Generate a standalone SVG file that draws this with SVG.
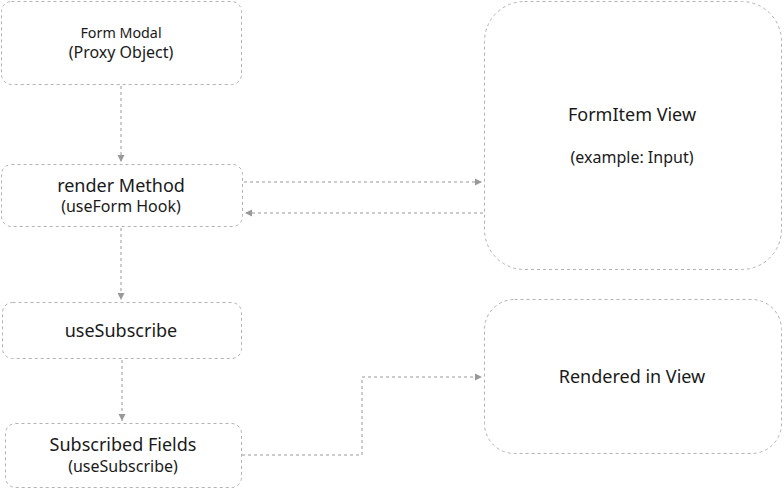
<svg xmlns="http://www.w3.org/2000/svg" width="784" height="489" viewBox="0 0 784 489">
<style>
.box{fill:#fff;stroke:#b3b3b3;stroke-width:1;stroke-dasharray:3 3}
.edge{fill:none;stroke:#999;stroke-width:1;stroke-dasharray:3 3}
text{font-family:"Noto Sans","Open Sans",sans-serif;fill:#1a1a1a;text-anchor:middle}
.l{font-size:18px}
.s{font-size:16px}
.xs{font-size:14.3px}
</style>
<defs>
<marker id="arr" markerWidth="8" markerHeight="8" refX="7" refY="4" orient="auto" markerUnits="userSpaceOnUse">
<path d="M0,0.5 L7,4 L0,7.5 Z" fill="#999"/>
</marker>
</defs>
<rect width="784" height="489" fill="#fff"/>
<g id="edges">
<path class="edge" d="M121,86 V162" marker-end="url(#arr)"/>
<path class="edge" d="M244,182 H482" marker-end="url(#arr)"/>
<path class="edge" d="M483,213 H245" marker-end="url(#arr)"/>
<path class="edge" d="M121,228 V300" marker-end="url(#arr)"/>
<path class="edge" d="M122,360 V421" marker-end="url(#arr)"/>
<path class="edge" d="M242,455 H362 V377 H482" marker-end="url(#arr)"/>
</g>
<g id="formModal">
<rect class="box" x="1.5" y="1.5" width="240" height="83" rx="10"/>
<text class="xs" x="121" y="38">Form Modal</text>
<text class="s" x="121" y="58">(Proxy Object)</text>
</g>
<g id="renderMethod">
<rect class="box" x="1.5" y="164.5" width="241" height="62" rx="10"/>
<text class="l" x="121" y="192">render Method</text>
<text class="s" x="121" y="212">(useForm Hook)</text>
</g>
<g id="formItemView">
<rect class="box" x="484.5" y="1.5" width="297" height="268" rx="40"/>
<text class="l" x="632" y="121">FormItem View</text>
<text class="s" x="632" y="163">(example: Input)</text>
</g>
<g id="useSubscribe">
<rect class="box" x="2.5" y="302.5" width="239" height="56" rx="10"/>
<text class="l" x="121" y="337">useSubscribe</text>
</g>
<g id="subscribedFields">
<rect class="box" x="5.5" y="423.5" width="236" height="64" rx="10"/>
<text class="l" x="123" y="451">Subscribed Fields</text>
<text class="s" x="123" y="472">(useSubscribe)</text>
</g>
<g id="renderedInView">
<rect class="box" x="484.5" y="299.5" width="297" height="154" rx="30"/>
<text class="l" x="632" y="383">Rendered in View</text>
</g>
</svg>
